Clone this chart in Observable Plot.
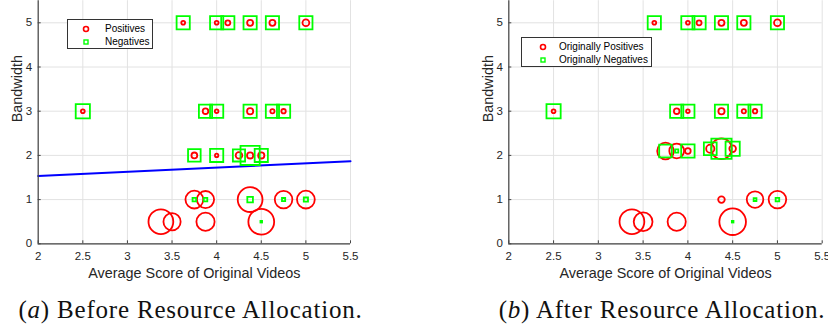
<!DOCTYPE html>
<html>
<head>
<meta charset="utf-8">
<script src="https://cdn.jsdelivr.net/npm/d3@7"></script>
<script src="https://cdn.jsdelivr.net/npm/@observablehq/plot@0.6"></script>
<style>
  html, body { margin: 0; padding: 0; background: #fff; }
  #wrap { position: relative; width: 828px; height: 329px; overflow: hidden; background: #fff; }
  .panel { position: absolute; top: 0; }
  .legend { position: absolute; background: #fff; border: 1px solid #333; box-sizing: border-box;
            font-family: "Liberation Sans", Arial, sans-serif; font-size: 10px; color: #000; }
  .legend .row { position: absolute; left: 0; height: 12px; line-height: 12px; white-space: nowrap; }
  .legend svg { position: absolute; top: 0; }
  .legend span { position: absolute; top: 0; }
  .caption { position: absolute; text-align: center; font-family: "Liberation Serif", "DejaVu Serif", serif;
             font-size: 25px; line-height: 25px; color: #111; white-space: nowrap; letter-spacing: 0.8px; }
</style>
</head>
<body>
<div id="wrap">
  <div id="panelA" class="panel" style="left:0px;width:414px;"></div>
  <div id="panelB" class="panel" style="left:420px;width:408px;"></div>
  <div class="legend" style="left:67px;top:19px;width:86px;height:30px;">
    <div class="row" style="top:3px;">
      <svg width="12" height="12" style="left:12px"><circle cx="6" cy="6" r="2.5" fill="none" stroke="#ff0000" stroke-width="1.6"/></svg>
      <span style="left:37px">Positives</span>
    </div>
    <div class="row" style="top:16px;">
      <svg width="12" height="12" style="left:12px"><rect x="4" y="4" width="4" height="4" fill="none" stroke="#00ff00" stroke-width="1.4"/></svg>
      <span style="left:37px">Negatives</span>
    </div>
  </div>
  <div class="legend" style="left:521px;top:37px;width:131px;height:30px;">
    <div class="row" style="top:3px;">
      <svg width="12" height="12" style="left:15px"><circle cx="6" cy="6" r="2.5" fill="none" stroke="#ff0000" stroke-width="1.6"/></svg>
      <span style="left:37px">Originally Positives</span>
    </div>
    <div class="row" style="top:16px;">
      <svg width="12" height="12" style="left:15px"><rect x="4" y="4" width="4" height="4" fill="none" stroke="#00ff00" stroke-width="1.4"/></svg>
      <span style="left:37px">Originally Negatives</span>
    </div>
  </div>
  <div class="caption" style="left:0px;width:381px;top:297px;">(<i>a</i>) Before Resource Allocation.</div>
  <div class="caption" style="left:462px;width:400px;top:297px;">(<i>b</i>) After Resource Allocation.</div>
</div>
<script>
// ---- data ----
const xTicks = [2, 2.5, 3, 3.5, 4, 4.5, 5, 5.5];
const yTicks = [0, 1, 2, 3, 4, 5];
const xLabel = "Average Score of Original Videos";
const yLabel = "Bandwidth";

// (a) before resource allocation: score, bandwidth, positive weight, negative weight
const beforeScore = [3.625, 4.0, 4.125, 4.375, 4.625, 5.0,
                     2.5, 3.875, 4.0, 4.375, 4.625, 4.75,
                     3.75, 4.0, 4.25, 4.375, 4.5,
                     3.75, 3.875, 4.375, 4.75, 5.0,
                     3.375, 3.5, 3.875, 4.5];
const beforeBandwidth = [5, 5, 5, 5, 5, 5,
                         3, 3, 3, 3, 3, 3,
                         2, 2, 2, 2, 2,
                         1, 1, 1, 1, 1,
                         0.5, 0.5, 0.5, 0.5];
const beforePos = [2.8, 2.8, 3.4, 3.9, 3.9, 4.3,
                   2.8, 3.7, 2.7, 4.0, 3.0, 3.1,
                   3.8, 2.6, 4.2, 4.0, 4.0,
                   9.8, 9.5, 13.3, 9.7, 9.8,
                   13.3, 9.5, 10, 13.8];
const beforeNeg = [7.5, 7.5, 7.5, 7.5, 7.5, 7.5,
                   8, 7.5, 7.5, 7.5, 7.5, 7.5,
                   7.2, 7.5, 7.0, 10.5, 7.5,
                   2.7, 2.7, 3.7, 2.5, 3.0,
                   0, 0, 0, 1.7];
// fitted line in panel (a)
const fitScore = [2, 5.5];
const fitBandwidth = [1.535, 1.87];

// (b) after resource allocation
const afterScore = [3.625, 4.0, 4.125, 4.375, 4.625, 5.0,
                    2.5, 3.875, 4.0, 4.375, 4.625, 4.75,
                    3.75, 3.875, 4.0, 4.25, 4.375, 4.5,
                    4.375, 4.75, 5.0,
                    3.375, 3.5, 3.875, 4.5];
const afterBandwidth = [5, 5, 5, 5, 5, 5,
                        3, 3, 3, 3, 3, 3,
                        2.1, 2.1, 2.1, 2.15, 2.15, 2.15,
                        1, 1, 1,
                        0.5, 0.5, 0.5, 0.5];
const afterPos = [2.8, 2.8, 3.4, 3.9, 3.9, 4.3,
                  2.8, 3.7, 2.7, 4.0, 3.0, 3.1,
                  9.2, 8.3, 3.7, 5.0, 11.2, 4.2,
                  4.2, 9.2, 9.7,
                  13.3, 10.3, 10, 14.2];
const afterNeg = [7.5, 7.5, 7.5, 7.5, 7.5, 7.5,
                  8, 7.5, 7.5, 7.5, 7.5, 7.5,
                  7.2, 2.5, 7.6, 7.3, 11, 8,
                  0, 2.3, 2.7,
                  0, 0, 0, 1.7];

// ---- chart ----
const RED = "#ff0000", GREEN = "#00ff00", BLUE = "#0000ff";
const AXIS = "#444444", GRID = "#e2e2e2", TEXT = "#262626";

const squareSymbol = {
  draw(ctx, size) {
    const r = Math.sqrt(size / Math.PI);
    ctx.moveTo(-r, -r); ctx.lineTo(r, -r); ctx.lineTo(r, r); ctx.lineTo(-r, r); ctx.closePath();
  }
};

function panel(score, bw, pos, neg, opts) {
  const rows = score.map((s, i) => ({s, b: bw[i], p: pos[i], n: neg[i]}));
  const W = opts.width, H = 290;
  const mL = opts.marginLeft, mR = opts.marginRight, mT = 0.2, mB = 46.7;
  const plotW = W - mL - mR, plotH = H - mT - mB;
  const marks = [
    Plot.gridX(xTicks, {stroke: GRID, strokeOpacity: 1, strokeWidth: 1}),
    Plot.gridY(yTicks, {stroke: GRID, strokeOpacity: 1, strokeWidth: 1}),
  ];
  if (opts.fit) {
    marks.push(Plot.line(fitScore.map((s, i) => ({s, b: fitBandwidth[i]})),
      {x: "s", y: "b", stroke: BLUE, strokeWidth: 2}));
  }
  marks.push(
    Plot.dot(rows.filter(d => d.p > 0), {x: "s", y: "b", r: "p", stroke: RED, strokeWidth: 1.8, fill: "none"}),
    Plot.dot(rows.filter(d => d.n > 0), {x: "s", y: "b", r: "n", symbol: squareSymbol, stroke: GREEN, strokeWidth: 1.8, fill: "none"}),
    Plot.ruleX([2], {stroke: AXIS, strokeWidth: 1.2}),
    Plot.ruleY([0], {stroke: AXIS, strokeWidth: 1.2}),
    Plot.tickX(xTicks, {x: d => d, insetTop: plotH - 3, stroke: AXIS, strokeWidth: 1}),
    Plot.tickY(yTicks, {y: d => d, insetRight: plotW - 3, stroke: AXIS, strokeWidth: 1}),
    Plot.axisX(xTicks, {tickSize: 0, tickPadding: 8.5, tickFormat: d => String(d), fontSize: 11.5, fill: TEXT, label: null}),
    Plot.axisY(yTicks, {tickSize: 0, tickPadding: 6, tickFormat: d => String(d), fontSize: 11.5, fill: TEXT, label: null}),
    Plot.text([xLabel], {text: d => d, frameAnchor: "bottom", lineAnchor: "middle", dy: 30, fontSize: 14.4, fill: TEXT}),
    Plot.text([yLabel], {text: d => d, frameAnchor: "left", lineAnchor: "middle", rotate: -90, dx: -20.5, fontSize: 14.4, fill: TEXT})
  );
  return Plot.plot({
    width: W, height: H,
    marginLeft: mL, marginRight: mR, marginTop: mT, marginBottom: mB,
    x: {domain: [2, 5.5], label: null},
    y: {domain: [0, 5.5], label: null},
    r: {type: "linear", domain: [1, 15], range: [0.1, 14.1]},
    style: {fontFamily: "'Liberation Sans', Arial, sans-serif", fontSize: "11.5px", background: "transparent", overflow: "visible", maxWidth: "none"},
    marks
  });
}

document.getElementById("panelA").appendChild(
  panel(beforeScore, beforeBandwidth, beforePos, beforeNeg, {width: 414, marginLeft: 37.7, marginRight: 64, fit: true}));
document.getElementById("panelB").appendChild(
  panel(afterScore, afterBandwidth, afterPos, afterNeg, {width: 408, marginLeft: 88.3, marginRight: 6.3, fit: false}));
</script>
</body>
</html>
